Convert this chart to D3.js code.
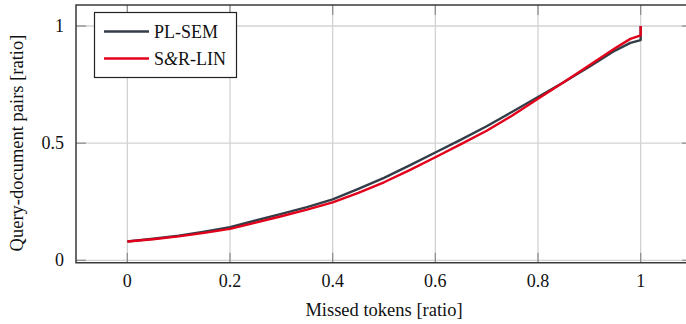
<!DOCTYPE html>
<html><head><meta charset="utf-8">
<script src="https://cdn.jsdelivr.net/npm/d3@7"></script>
<style>
html,body{margin:0;padding:0;background:#fff;}
text{font-family:"Liberation Serif","Times New Roman",serif;fill:#111;}
</style></head>
<body><svg id="c" width="686" height="324"></svg>
<script>
const xValues = [0,0.05,0.1,0.15,0.2,0.25,0.3,0.35,0.4,0.45,0.5,0.55,0.6,0.65,0.7,0.75,0.8,0.85,0.9,0.95,0.98,1,1];
const plSem   = [0.080,0.092,0.105,0.122,0.141,0.170,0.198,0.227,0.260,0.305,0.352,0.405,0.460,0.515,0.572,0.634,0.697,0.760,0.826,0.895,0.928,0.940,1.0];
const srLin   = [0.080,0.090,0.102,0.117,0.134,0.161,0.188,0.216,0.247,0.288,0.333,0.385,0.440,0.496,0.553,0.618,0.690,0.760,0.832,0.905,0.945,0.960,1.0];
const seriesNames = ["PL-SEM","S&R-LIN"];
const seriesColors = ["#333d47","#e3001b"];
const xTicks = [0,0.2,0.4,0.6,0.8,1];
const yTicks = [0,0.5,1];

const svg = d3.select("#c");
const L=76, R=692, T=5, B=262.7;
const x = d3.scaleLinear().domain([-0.1,1.1]).range([L,R]);
const y = d3.scaleLinear().domain([0,1]).range([260.3,26]);

// grid
const g = svg.append("g");
g.selectAll(".vg").data(xTicks).join("line")
  .attr("x1",d=>x(d)).attr("x2",d=>x(d)).attr("y1",T).attr("y2",B)
  .attr("stroke","#d3d3d3").attr("stroke-width",1.3);
g.selectAll(".hg").data(yTicks).join("line")
  .attr("x1",L).attr("x2",R).attr("y1",d=>y(d)).attr("y2",d=>y(d))
  .attr("stroke","#d3d3d3").attr("stroke-width",1.3);

// ticks (inside, mirrored)
const tl = 10;
g.selectAll(".xtb").data(xTicks).join("line")
  .attr("x1",d=>x(d)).attr("x2",d=>x(d)).attr("y1",B).attr("y2",B-tl)
  .attr("stroke","#8a8a8a").attr("stroke-width",1.2);
g.selectAll(".xtt").data(xTicks).join("line")
  .attr("x1",d=>x(d)).attr("x2",d=>x(d)).attr("y1",T).attr("y2",T+tl)
  .attr("stroke","#8a8a8a").attr("stroke-width",1.2);
g.selectAll(".ytl").data(yTicks).join("line")
  .attr("x1",L).attr("x2",L+tl).attr("y1",d=>y(d)).attr("y2",d=>y(d))
  .attr("stroke","#8a8a8a").attr("stroke-width",1.2);
g.selectAll(".ytr").data(yTicks).join("line")
  .attr("x1",R).attr("x2",R-tl).attr("y1",d=>y(d)).attr("y2",d=>y(d))
  .attr("stroke","#8a8a8a").attr("stroke-width",1.2);

// frame
svg.append("path").attr("d",`M${R},${T}H${L}V${B}H${R}`)
  .attr("fill","none").attr("stroke","#3a3a3a").attr("stroke-width",1.5);

// tick labels
svg.selectAll(".xl").data(xTicks).join("text")
  .attr("x",d=>x(d)).attr("y",287).attr("text-anchor","middle")
  .attr("font-size",18).text(d=>d3.format("~g")(d));
svg.selectAll(".yl").data(yTicks).join("text")
  .attr("x",64).attr("y",d=>y(d)+6).attr("text-anchor","end")
  .attr("font-size",18).text(d=>d3.format("~g")(d));

// axis titles
svg.append("text").attr("x",384).attr("y",316).attr("text-anchor","middle")
  .attr("font-size",18.5).text("Missed tokens [ratio]");
svg.append("text").attr("transform","translate(23,143) rotate(-90)")
  .attr("text-anchor","middle").attr("font-size",18.5).text("Query-document pairs [ratio]");

// lines
const line = d3.line().x(d=>x(d[0])).y(d=>y(d[1]));
[plSem, srLin].forEach((s,i)=>{
  svg.append("path").datum(xValues.map((v,j)=>[v,s[j]]))
    .attr("d",line).attr("fill","none").attr("stroke",seriesColors[i])
    .attr("stroke-width",2.4).attr("stroke-linejoin","round");
});

// legend
const lg = svg.append("g");
lg.append("rect").attr("x",94.5).attr("y",12.5).attr("width",142).attr("height",65)
  .attr("fill","#fff").attr("stroke","#222").attr("stroke-width",1.2);
seriesNames.forEach((n,i)=>{
  const yy = 31.5 + i*27;
  lg.append("line").attr("x1",104).attr("x2",149).attr("y1",yy).attr("y2",yy)
    .attr("stroke",seriesColors[i]).attr("stroke-width",2.4);
  const t = lg.append("text").attr("x",154).attr("y",yy+6).attr("font-size",18);
  if (n.includes("&")) {
    const parts = n.split("&");
    t.append("tspan").text(parts[0]);
    t.append("tspan").attr("font-style","italic").text("&");
    t.append("tspan").text(parts[1]);
  } else t.text(n);
});
</script></body></html>
